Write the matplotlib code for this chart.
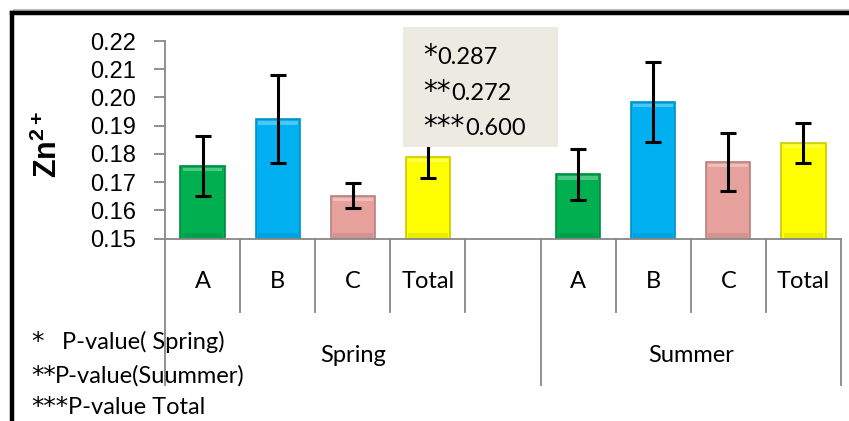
import matplotlib
matplotlib.use("Agg")
import matplotlib.pyplot as plt
from matplotlib.patches import Rectangle
from matplotlib.lines import Line2D
import matplotlib.transforms as mtransforms
import numpy as np

plt.rcParams['mathtext.fontset'] = 'custom'
plt.rcParams['mathtext.rm'] = 'Liberation Sans'
plt.rcParams['mathtext.bf'] = 'Liberation Sans:bold'

# ---- data ----
groups = ["Spring", "Summer"]
categories = ["A", "B", "C", "Total"]
spring_means = [0.1757, 0.1923, 0.1652, 0.1789]
spring_errs = [0.0108, 0.0157, 0.0044, 0.0075]
summer_means = [0.1728, 0.1984, 0.1772, 0.1839]
summer_errs = [0.0090, 0.0141, 0.0102, 0.0071]
bar_colors = ["#00B050", "#00B0F0", "#E6A19D", "#FFFF00"]
edge_colors = ["#008A3E", "#0090C4", "#B5817D", "#C9C900"]
yticks = [0.15, 0.16, 0.17, 0.18, 0.19, 0.20, 0.21, 0.22]
pvalue_stars = ["*", "**", "***"]
pvalue_values = ["0.287", "0.272", "0.600"]
footnote_stars = ["*", "**", "***"]
footnote_texts = ["P-value( Spring)", "P-value(Suummer)", "P-value Total"]

W, H = 849, 421
fig = plt.figure(figsize=(W / 100, H / 100), dpi=100)

def fx(x):
    return x / W

def fy(y):
    return 1 - y / H

ax_left, ax_right, ax_top, ax_bot = 165, 841, 41, 238.5
ax = fig.add_axes([fx(ax_left), fy(ax_bot), fx(ax_right) - fx(ax_left), fy(ax_top) - fy(ax_bot)])

axis_gray = "#878787"
n_cat = len(categories)
positions_spring = np.arange(n_cat)
positions_summer = np.arange(n_cat) + n_cat + 1
bar_w = 0.59

for pos, means, errs in [(positions_spring, spring_means, spring_errs),
                         (positions_summer, summer_means, summer_errs)]:
    for i in range(n_cat):
        base = 0.15
        ax.bar(pos[i], means[i] - base, bottom=base, width=bar_w, color=bar_colors[i],
               edgecolor=edge_colors[i], linewidth=1.2, zorder=2)
        band = 0.0012
        ax.bar(pos[i], band, bottom=means[i] - band * 1.6, width=bar_w * 0.9,
               color="white", alpha=0.30, linewidth=0, zorder=2.5)
        ax.bar(pos[i], band * 1.5, bottom=base + 0.0002, width=bar_w * 0.9,
               color="black", alpha=0.08, linewidth=0, zorder=2.5)
        ax.errorbar(pos[i], means[i], yerr=errs[i], fmt="none", ecolor="black",
                    elinewidth=2.2, capsize=6, capthick=2.2, zorder=3)

ax.set_ylim(0.15, 0.22)
ax.set_xlim(-0.5, 2 * n_cat + 0.5)
ax.set_yticks(yticks)
ax.set_yticklabels([f"{v:.2f}" for v in yticks], fontsize=17, family="Liberation Sans")
ax.tick_params(axis="y", direction="out", length=8, width=1.3, color=axis_gray, pad=13)
ax.set_xticks([])
for s in ["top", "right"]:
    ax.spines[s].set_visible(False)
for s in ["left", "bottom"]:
    ax.spines[s].set_color(axis_gray)
    ax.spines[s].set_linewidth(1.3)

# category separators and labels below axis
trans = mtransforms.blended_transform_factory(ax.transData, fig.transFigure)
all_pos = list(positions_spring) + list(positions_summer)
all_lab = categories + categories
group_bounds = [-0.5, n_cat + 0.5, 2 * n_cat + 0.5]
for b in np.arange(-0.5, 2 * n_cat + 1, 1.0):
    y_end = 385 if b in group_bounds else 312
    ax.add_line(Line2D([b, b], [fy(ax_bot), fy(y_end)], transform=trans, color=axis_gray,
                       linewidth=1.3, clip_on=False))
for p, lab in zip(all_pos, all_lab):
    ax.text(p, fy(288), lab, transform=trans, ha="center", va="baseline",
            fontsize=17, family="Lato")
for g, (a, b) in zip(groups, [(group_bounds[0], group_bounds[1]), (group_bounds[1], group_bounds[2])]):
    ax.text((a + b) / 2, fy(362), g, transform=trans, ha="center", va="baseline",
            fontsize=17, family="Lato")

# y label
fig.text(fx(47), fy(144), r"$\mathbf{Zn^{2+}}$", rotation=90, ha="center", va="center",
         fontsize=22)

# p-value box
fig.patches.append(Rectangle((fx(403), fy(147)), fx(558) - fx(403), fy(27) - fy(147),
                             transform=fig.transFigure, facecolor="#ECEAE1",
                             edgecolor="none", zorder=5))
box_baselines = [64, 99.5, 135]
box_value_x = [437, 451, 465]
for st, val, yb, xv in zip(pvalue_stars, pvalue_values, box_baselines, box_value_x):
    fig.text(fx(423), fy(yb), st, ha="left", va="baseline", fontsize=20,
             family="DejaVu Sans", zorder=6)
    fig.text(fx(xv), fy(yb), val, ha="left", va="baseline", fontsize=17,
             family="Lato", zorder=6)

# footnotes
foot_baselines = [349, 383, 414]
foot_text_x = [62, 55, 68]
for st, t, yb, xt in zip(footnote_stars, footnote_texts, foot_baselines, foot_text_x):
    fig.text(fx(31), fy(yb), st, ha="left", va="baseline", fontsize=18,
             family="DejaVu Sans", zorder=6)
    fig.text(fx(xt), fy(yb), t, ha="left", va="baseline", fontsize=17,
             family="Lato", zorder=6)

# frame border (left and top)
fig.add_artist(Line2D([fx(14), fx(W)], [fy(10), fy(10)], color="#BBBBBB", linewidth=1.5,
                      transform=fig.transFigure))
fig.add_artist(Line2D([fx(12), fx(12)], [fy(13), fy(H + 5)], color="black", linewidth=3.2,
                      transform=fig.transFigure, solid_capstyle="projecting"))
fig.add_artist(Line2D([fx(12), fx(W + 5)], [fy(13), fy(13)], color="black", linewidth=3.2,
                      transform=fig.transFigure, solid_capstyle="projecting"))

fig.savefig("out.png", dpi=100)
